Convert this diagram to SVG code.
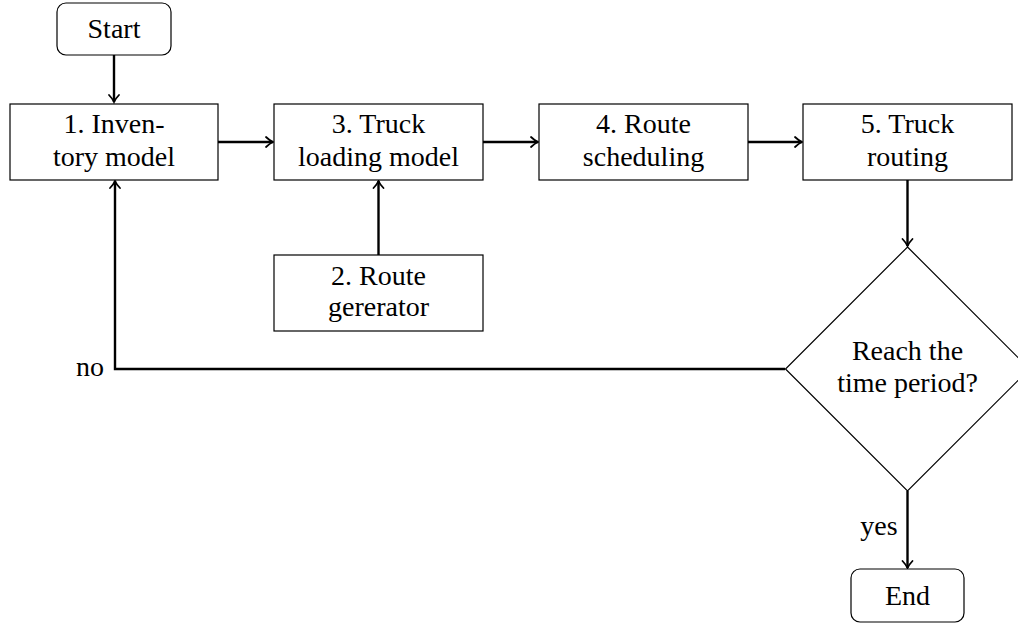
<svg xmlns="http://www.w3.org/2000/svg" width="1018" height="623" viewBox="0 0 1018 623">
<defs>
<marker id="arr" markerUnits="userSpaceOnUse" markerWidth="14" markerHeight="14" viewBox="-10 -7 14 14" refX="0" refY="0" orient="auto">
<path d="M-7,-5 Q-3,-1.2 0,0 Q-3,1.2 -7,5" fill="none" stroke="#000" stroke-width="1.8" stroke-linecap="round"/>
</marker>
</defs>
<style>
.box{fill:#fff;stroke:#000;stroke-width:1.2}
.t{font-family:"Liberation Serif","DejaVu Serif",serif;font-size:28px;fill:#000;text-anchor:middle}
.c{fill:none;stroke:#000;stroke-width:2.4}
</style>
<rect width="1018" height="623" fill="#fff"/>
<g id="connectors">
<line class="c" x1="114" y1="55" x2="114" y2="102" marker-end="url(#arr)"/>
<line class="c" x1="218" y1="142" x2="273" y2="142" marker-end="url(#arr)"/>
<line class="c" x1="483" y1="142" x2="538" y2="142" marker-end="url(#arr)"/>
<line class="c" x1="748" y1="142" x2="802" y2="142" marker-end="url(#arr)"/>
<line class="c" x1="378.5" y1="255" x2="378.5" y2="181" marker-end="url(#arr)"/>
<line class="c" x1="907.5" y1="180" x2="907.5" y2="246" marker-end="url(#arr)"/>
<polyline class="c" points="785,369 115,369 115,181" marker-end="url(#arr)"/>
<line class="c" x1="907.5" y1="491" x2="907.5" y2="568" marker-end="url(#arr)"/>
<text class="t" x="90" y="376">no</text>
<text class="t" x="879" y="535">yes</text>
</g>
<g id="start">
<rect class="box" x="57" y="3" width="114" height="52" rx="9"/>
<text class="t" x="114" y="38">Start</text>
</g>
<g id="inventory">
<rect class="box" x="10" y="104" width="208" height="76"/>
<text class="t" x="114" y="133">1. Inven-</text>
<text class="t" x="114" y="166">tory model</text>
</g>
<g id="truck-loading">
<rect class="box" x="274" y="104" width="209" height="76"/>
<text class="t" x="378.5" y="133">3. Truck</text>
<text class="t" x="378.5" y="166">loading model</text>
</g>
<g id="route-generator">
<rect class="box" x="274" y="255" width="209" height="76"/>
<text class="t" x="378.5" y="285">2. Route</text>
<text class="t" x="378.5" y="316">gererator</text>
</g>
<g id="route-scheduling">
<rect class="box" x="539" y="104" width="209" height="76"/>
<text class="t" x="643.5" y="133">4. Route</text>
<text class="t" x="643.5" y="166">scheduling</text>
</g>
<g id="truck-routing">
<rect class="box" x="803" y="104" width="209" height="76"/>
<text class="t" x="907.5" y="133">5. Truck</text>
<text class="t" x="907.5" y="166">routing</text>
</g>
<g id="decision">
<polygon class="box" points="907.5,247 1029.5,369 907.5,491 785.5,369"/>
<text class="t" x="907.5" y="360">Reach the</text>
<text class="t" x="907.5" y="392">time period?</text>
</g>
<g id="end">
<rect class="box" x="851" y="569" width="113" height="53" rx="9"/>
<text class="t" x="907.5" y="605">End</text>
</g>
</svg>
